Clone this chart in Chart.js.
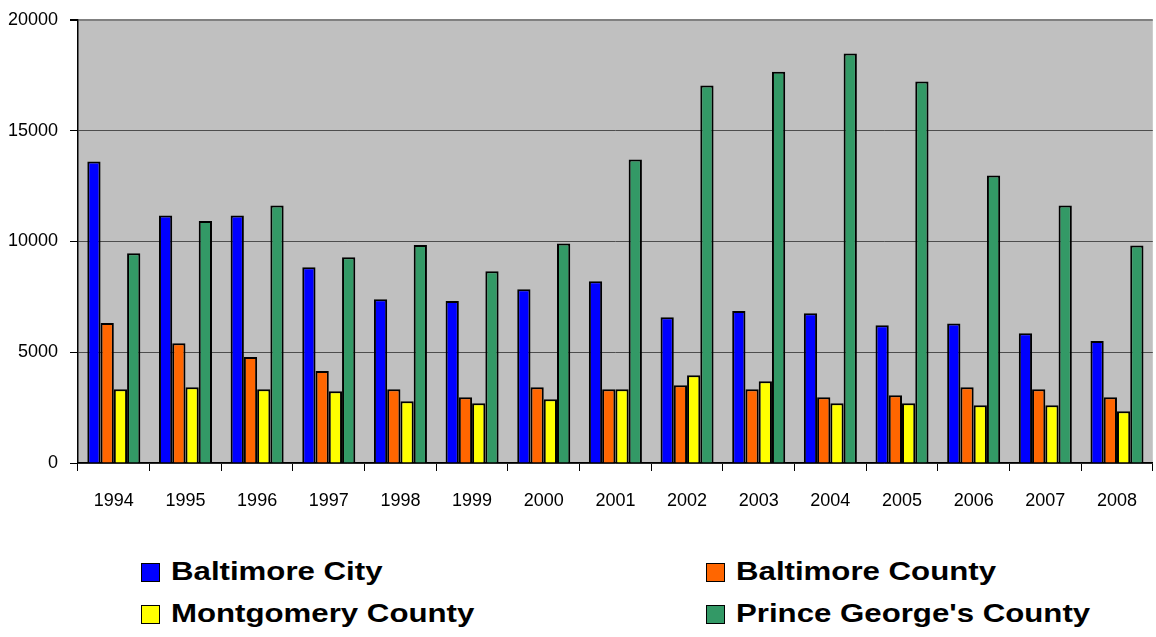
<!DOCTYPE html>
<html>
<head>
<meta charset="utf-8">
<script src="https://cdn.jsdelivr.net/npm/chart.js@4/dist/chart.umd.min.js"></script>
<style>
  body { margin: 0; background: #fff; }
  #wrap { position: relative; width: 1156px; height: 637px; overflow: hidden; }
  #chart { position: absolute; left: 0; top: -3px; }
  .leg { position: absolute; height: 20px; white-space: nowrap; }
  .leg .box { position: absolute; left: 0; top: 0; width: 17px; height: 17px; border: 1.5px solid #000; }
  .leg .txt { position: absolute; left: 30px; top: -7px; font: bold 26px "Liberation Sans", Arial, sans-serif;
    color: #000; transform: scaleX(1.2); transform-origin: left center; }
</style>
</head>
<body>
<div id="wrap">
  <canvas id="chart" width="1156" height="523"></canvas>
  <div id="legend"></div>
</div>
<script>
const years = ['1994','1995','1996','1997','1998','1999','2000','2001','2002','2003','2004','2005','2006','2007','2008'];
const baltimoreCity = [13600, 11170, 11170, 8830, 7390, 7310, 7840, 8200, 6580, 6860, 6760, 6220, 6300, 5860, 5500];
const baltimoreCounty = [6320, 5400, 4780, 4150, 3330, 2970, 3420, 3330, 3510, 3330, 2970, 3060, 3420, 3330, 2970];
const montgomeryCounty = [3330, 3420, 3330, 3240, 2790, 2700, 2880, 3330, 3960, 3690, 2700, 2700, 2610, 2610, 2340];
const princeGeorges = [9460, 10920, 11620, 9280, 9840, 8650, 9910, 13700, 17030, 17660, 18480, 17220, 12970, 11620, 9820];
const seriesNames = ['Baltimore City', 'Baltimore County', 'Montgomery County', "Prince George's County"];
const seriesColors = ['#0000ff', '#ff6600', '#ffff00', '#339966'];
const yTicks = [0, 5000, 10000, 15000, 20000];

const allSeries = [baltimoreCity, baltimoreCounty, montgomeryCounty, princeGeorges];

// grey plot area
const plotBg = {
  id: 'plotBg',
  beforeDraw(chart) {
    const { ctx, chartArea: a } = chart;
    ctx.save();
    ctx.fillStyle = '#c0c0c0';
    ctx.fillRect(a.left, a.top, a.right - a.left, a.bottom - a.top);
    ctx.restore();
  }
};

const tickFont = { family: '"Liberation Sans Narrow", "Arial Narrow", "Liberation Sans", sans-serif', size: 18 };

new Chart(document.getElementById('chart'), {
  type: 'bar',
  data: {
    labels: years,
    datasets: allSeries.map((d, i) => ({
      label: seriesNames[i],
      data: d,
      backgroundColor: seriesColors[i],
      borderColor: '#000',
      borderWidth: 2,
      categoryPercentage: 0.74,
      barPercentage: 1
    }))
  },
  options: {
    responsive: false,
    animation: false,
    layout: { padding: { top: 11, right: 0, left: 0, bottom: 0 } },
    plugins: { legend: { display: false }, tooltip: { enabled: false } },
    scales: {
      x: {
        offset: true,
        grid: { offset: true, drawOnChartArea: false, tickLength: 8, tickColor: '#000', lineWidth: 1 },
        border: { color: '#000', width: 1.5 },
        ticks: { color: '#000', font: tickFont, padding: 19, maxRotation: 0, autoSkip: false },
        afterFit(s) { s.height = 57; }
      },
      y: {
        min: 0,
        max: 20000,
        afterBuildTicks(s) { s.ticks = yTicks.map(v => ({ value: v })); },
        grid: {
          color: c => c.tick && c.tick.value === 20000 ? '#808080' : '#4d4d4d',
          lineWidth: c => c.tick && c.tick.value === 20000 ? 2 : 1,
          tickColor: '#000',
          tickLength: 8
        },
        border: { color: '#000', width: 1.5 },
        ticks: { color: '#000', font: tickFont, padding: 12, callback: v => String(v) },
        afterFit(s) { s.width = 78; }
      }
    }
  },
  plugins: [plotBg]
});

// legend, two columns
const legPos = [[141, 563], [706, 563], [141, 605], [706, 605]];
const legend = document.getElementById('legend');
seriesNames.forEach((name, i) => {
  const item = document.createElement('div');
  item.className = 'leg';
  item.style.left = legPos[i][0] + 'px';
  item.style.top = legPos[i][1] + 'px';
  item.innerHTML = '<span class="box" style="background:' + seriesColors[i] + '"></span><span class="txt"></span>';
  item.querySelector('.txt').textContent = name;
  legend.appendChild(item);
});
</script>
</body>
</html>
